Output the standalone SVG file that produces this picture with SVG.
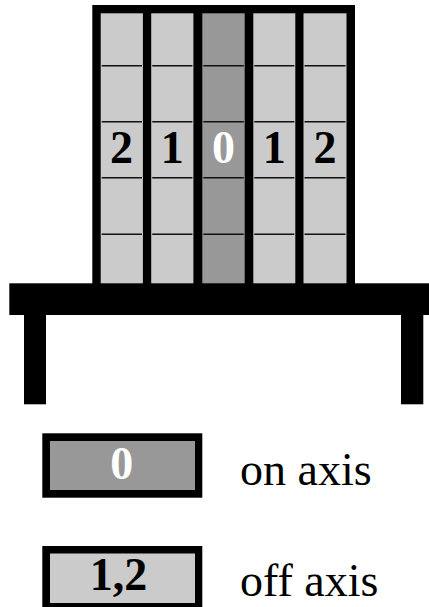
<svg xmlns="http://www.w3.org/2000/svg" width="429" height="607" viewBox="0 0 429 607">
  <style>
    .frame { fill: #000; }
    .off { fill: #cbcbcb; }
    .on { fill: #989898; }
    .rule { stroke: #111; stroke-width: 1.6; }
    .num { font-family: "Liberation Serif", "Times New Roman", serif; font-weight: bold; font-size: 46px; text-anchor: middle; }
    .label { font-family: "Liberation Serif", "Times New Roman", serif; font-size: 46px; fill: #000; }
  </style>

  <!-- stack of five columns -->
  <g id="stack">
    <rect class="frame" x="92.3" y="5" width="262.7" height="280"/>
    <rect class="off" x="100.7" y="13.3" width="42.2" height="272"/>
    <rect class="off" x="151.2" y="13.3" width="42.2" height="272"/>
    <rect class="on"  x="202.3" y="13.3" width="42.4" height="272"/>
    <rect class="off" x="253.3" y="13.3" width="42.0" height="272"/>
    <rect class="off" x="303.5" y="13.3" width="43.0" height="272"/>
    <g class="rule">
      <path d="M101.7 65.7H141.9M152.2 65.7H192.4M203.3 65.7H243.7M254.3 65.7H294.3M304.5 65.7H345.5"/>
      <path d="M101.7 121.7H141.9M152.2 121.7H192.4M203.3 121.7H243.7M254.3 121.7H294.3M304.5 121.7H345.5"/>
      <path d="M101.7 177.7H141.9M152.2 177.7H192.4M203.3 177.7H243.7M254.3 177.7H294.3M304.5 177.7H345.5"/>
      <path d="M101.7 234.3H141.9M152.2 234.3H192.4M203.3 234.3H243.7M254.3 234.3H294.3M304.5 234.3H345.5"/>
    </g>
    <text class="num" x="121.5" y="163.3" fill="#000">2</text>
    <text class="num" x="172.3" y="163.3" fill="#000">1</text>
    <text class="num" x="223.5" y="163.3" fill="#fff">0</text>
    <text class="num" x="274.3" y="163.3" fill="#000">1</text>
    <text class="num" x="325" y="163.3" fill="#000">2</text>
  </g>

  <!-- table -->
  <g id="table">
    <rect class="frame" x="9.3" y="283.3" width="420" height="31.7"/>
    <rect class="frame" x="24" y="314" width="22" height="90.3"/>
    <rect class="frame" x="401" y="314" width="22.3" height="90.3"/>
  </g>

  <!-- legend -->
  <g id="legend-on">
    <rect class="frame" x="42.3" y="433.3" width="160" height="64.4"/>
    <rect class="on" x="50" y="441" width="145" height="49"/>
    <text class="num" x="121.7" y="479.3" fill="#fff">0</text>
    <text class="label" x="240" y="485">on axis</text>
  </g>
  <g id="legend-off">
    <rect class="frame" x="42.3" y="546" width="160" height="64.4"/>
    <rect class="off" x="50" y="553.5" width="145" height="49.5"/>
    <text class="num" x="118.5" y="590" fill="#000">1,2</text>
    <text class="label" x="240" y="595.7">off axis</text>
  </g>
</svg>
